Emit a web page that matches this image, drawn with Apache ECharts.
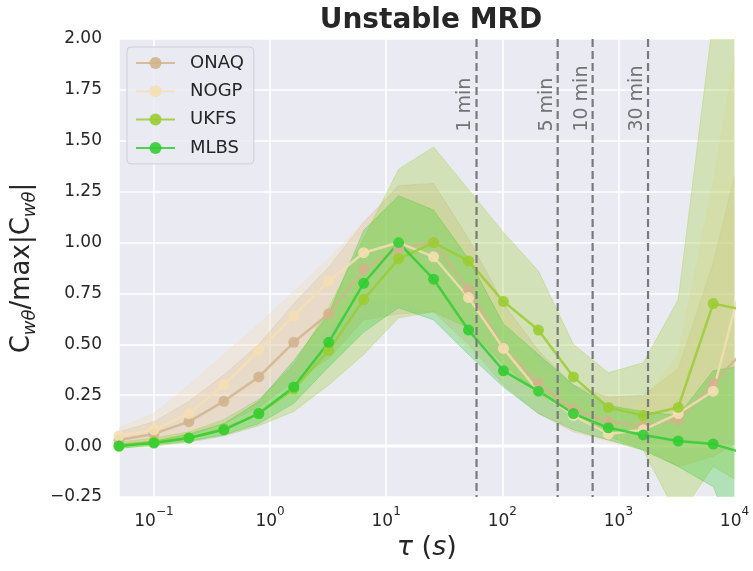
<!DOCTYPE html>
<html><head><meta charset="utf-8">
<script src="https://cdn.jsdelivr.net/npm/echarts@6/dist/echarts.min.js"></script>
<style>html,body{margin:0;padding:0;background:#fff}#c{width:753px;height:571px}</style>
</head><body><div id="c"></div>
<script>
// ---- data ----
const tau = [0.05,0.1,0.2,0.4,0.8,1.6,3.2,6.4,12.8,25.6,51.2,102.4,204.8,409.6,819.2,1638.4,3276.8,6553.6,13107.2];
const sites = ['ONAQ','NOGP','UKFS','MLBS'];

const onaq    = [0.03,0.06,0.12,0.22,0.34,0.51,0.65,0.87,0.97,1.00,0.77,0.48,0.31,0.18,0.12,0.10,0.13,0.31,0.49];
const onaqHi  = [0.07,0.12,0.22,0.35,0.50,0.70,0.88,1.10,1.28,1.29,1.02,0.70,0.47,0.30,0.24,0.25,0.38,0.90,1.60];
const onaqLo  = [0.00,0.02,0.05,0.11,0.19,0.32,0.43,0.62,0.65,0.66,0.50,0.30,0.16,0.07,0.03,-0.01,-0.10,-0.05,0.05];

const nogp    = [0.05,0.08,0.16,0.30,0.47,0.64,0.81,0.95,1.00,0.93,0.73,0.48,0.27,0.15,0.06,0.08,0.16,0.27,0.93];
const nogpHi  = [0.09,0.16,0.30,0.45,0.60,0.76,0.92,1.10,1.22,1.18,0.95,0.66,0.42,0.27,0.18,0.22,0.45,1.30,2.30];
const nogpLo  = [0.02,0.03,0.06,0.14,0.27,0.42,0.58,0.72,0.70,0.66,0.48,0.32,0.16,0.07,0.02,-0.02,-0.10,-0.05,0.10];

const ukfs    = [0.00,0.02,0.04,0.085,0.16,0.28,0.47,0.72,0.92,1.00,0.91,0.71,0.57,0.34,0.19,0.15,0.19,0.70,0.665];
const ukfsHi  = [0.02,0.04,0.07,0.13,0.23,0.40,0.68,1.02,1.36,1.47,1.26,1.05,0.86,0.50,0.36,0.41,0.72,2.10,3.00];
const ukfsLo  = [-0.01,0.00,0.02,0.05,0.10,0.17,0.30,0.45,0.63,0.66,0.58,0.40,0.26,0.15,0.05,-0.02,-0.35,-0.10,-0.20];

const mlbs    = [0.00,0.015,0.04,0.08,0.16,0.29,0.51,0.80,1.00,0.82,0.57,0.37,0.27,0.16,0.09,0.055,0.025,0.01,-0.04];
const mlbsHi  = [0.01,0.025,0.06,0.11,0.22,0.42,0.65,1.06,1.23,1.16,0.92,0.60,0.45,0.30,0.20,0.17,0.15,0.37,0.40];
const mlbsLo  = [-0.01,0.005,0.025,0.055,0.11,0.21,0.39,0.56,0.68,0.62,0.45,0.29,0.16,0.08,0.03,-0.02,-0.10,-0.20,-0.60];

const markSeconds = [60, 300, 600, 1800];
const markLabels  = ['1 min', '5 min', '10 min', '30 min'];
const zeroLine = [0];

// ---- styles ----
const colors = ['#D2B48C', '#F5DEB3', '#9ACD32', '#32CD32'];
const means = [onaq, nogp, ukfs, mlbs];
const his = [onaqHi, nogpHi, ukfsHi, mlbsHi];
const los = [onaqLo, nogpLo, ukfsLo, mlbsLo];
const FONT = 'DejaVu Sans';
const X_MIN = 0.05, X_MAX = 10000, Y_MIN = -0.25, Y_MAX = 2.0;

function hexA(hex, a) {
  const r = parseInt(hex.slice(1,3),16), g = parseInt(hex.slice(3,5),16), b = parseInt(hex.slice(5,7),16);
  return `rgba(${r},${g},${b},${a})`;
}

const chart = echarts.init(document.getElementById('c'), null, {renderer:'canvas'});

const series = [];

// zero line (behind bands)
series.push({
  type:'custom', silent:true, z:1,
  data: zeroLine.map(v=>[X_MIN, v]),
  renderItem(params, api){
    const cs = params.coordSys;
    const p = api.coord([X_MIN, api.value(1)]);
    return {type:'line', shape:{x1:cs.x, y1:p[1], x2:cs.x+cs.width, y2:p[1]},
      style:{stroke:'#ffffff', lineWidth:3}};
  }
});

// uncertainty bands
sites.forEach((s, k) => {
  series.push({
    type:'custom', silent:true, z:2,
    data: tau.map((t,i)=>[t, los[k][i], his[k][i]]),
    encode:{x:0, y:[1,2]},
    renderItem(params, api){
      if (params.dataIndex !== 0) return null;
      const cs = params.coordSys;
      const pts = [];
      for (let i=0;i<tau.length;i++) pts.push(api.coord([tau[i], his[k][i]]));
      for (let i=tau.length-1;i>=0;i--) pts.push(api.coord([tau[i], los[k][i]]));
      return {type:'group',
        clipPath:{type:'rect', shape:{x:cs.x, y:cs.y, width:cs.width, height:cs.height}},
        children:[{type:'polygon', shape:{points:pts},
          style:{fill:hexA(colors[k],0.3), stroke:hexA(colors[k],0.3), lineWidth:1}}]};
    }
  });
});

// mean lines
sites.forEach((s, k) => {
  series.push({
    name:s, type:'line', z:3,
    data: tau.map((t,i)=>[t, means[k][i]]),
    symbol:'circle', symbolSize:11, showSymbol:true, clip:true,
    lineStyle:{color:hexA(colors[k],0.85), width:2.5},
    itemStyle:{color:hexA(colors[k],0.9), borderWidth:0},
    emphasis:{disabled:true}
  });
});

// time-scale markers
series.push({
  type:'custom', silent:true, z:4,
  data: markSeconds.map((v,i)=>[v, i]),
  renderItem(params, api){
    const x = api.value(0);
    const i = api.value(1);
    const top = api.coord([x, Y_MAX]);
    const bot = api.coord([x, Y_MIN]);
    const lab = api.coord([x, 1.545]);
    return {type:'group', children:[
      {type:'line', shape:{x1:top[0], y1:top[1], x2:bot[0], y2:bot[1]},
        style:{stroke:'#7a7a7a', lineWidth:2.2, lineDash:[8,4]}},
      {type:'text', x:lab[0]-1.5, y:lab[1], rotation:Math.PI/2,
        style:{text:markLabels[i], fill:'#737373', font:`19px "${FONT}"`,
          align:'left', verticalAlign:'bottom'}}
    ]};
  }
});

chart.setOption({
  animation:false,
  backgroundColor:'#ffffff',
  textStyle:{fontFamily:FONT},
  title:{text:'Unstable MRD', left:426, top:2, textAlign:'center',
    textStyle:{fontFamily:FONT, fontSize:28, fontWeight:'bold', color:'#262626'}},
  legend:{
    data:sites, orient:'vertical', left:127, top:47,
    itemWidth:39, itemHeight:15, itemGap:8.3,
    padding:[6,10,6,8],
    backgroundColor:'rgba(234,234,242,0.8)', borderColor:'#cfcfd6', borderWidth:1, borderRadius:4,
    textStyle:{fontFamily:FONT, fontSize:18, color:'#262626', lineHeight:20, padding:[0,0,0,10]}
  },
  grid:{left:119, right:18.5, top:39, bottom:74, show:true, backgroundColor:'#EAEAF2', borderWidth:0, containLabel:false},
  xAxis:{
    type:'log', logBase:10, min:X_MIN, max:X_MAX,
    name:'{i|τ} ({i|s})', nameLocation:'middle', nameGap:29,
    nameTextStyle:{fontFamily:FONT, fontSize:27, color:'#262626',
      rich:{i:{fontFamily:FONT, fontSize:27, fontStyle:'italic', color:'#262626'}}},
    axisLine:{show:false}, axisTick:{show:false},
    axisLabel:{fontFamily:FONT, fontSize:17, color:'#262626', margin:9,
      formatter:(v)=>{ const e=Math.log10(v); const r=Math.round(e); if(Math.abs(e-r)>1e-6) return ''; return '{n|10}{s|'+String(r).replace('-','−')+'}'; },
      rich:{
        n:{fontFamily:FONT, fontSize:17, color:'#262626', lineHeight:24, verticalAlign:'bottom'},
        s:{fontFamily:FONT, fontSize:12, color:'#262626', lineHeight:14, verticalAlign:'top'}
      }},
    splitLine:{show:true, lineStyle:{color:'#ffffff', width:1.5}},
    minorTick:{show:false}, minorSplitLine:{show:false}
  },
  yAxis:{
    type:'value', min:Y_MIN, max:Y_MAX, interval:0.25,
    name:'{n|C}{s|wθ}{n|/max|C}{s|wθ}{n||}', nameLocation:'middle', nameGap:78, nameRotate:90,
    nameTextStyle:{fontFamily:FONT, fontSize:26, color:'#262626',
      rich:{
        n:{fontFamily:FONT, fontSize:26, color:'#262626', lineHeight:34, verticalAlign:'middle'},
        s:{fontFamily:FONT, fontSize:18, fontStyle:'italic', color:'#262626', lineHeight:20, verticalAlign:'bottom'}
      }},
    axisLine:{show:false}, axisTick:{show:false},
    axisLabel:{fontFamily:FONT, fontSize:17, color:'#262626', margin:17,
      formatter:(v)=>v.toFixed(2).replace('-','−')},
    splitLine:{show:true, lineStyle:{color:'#ffffff', width:1.5}}
  },
  series
});
</script></body></html>
